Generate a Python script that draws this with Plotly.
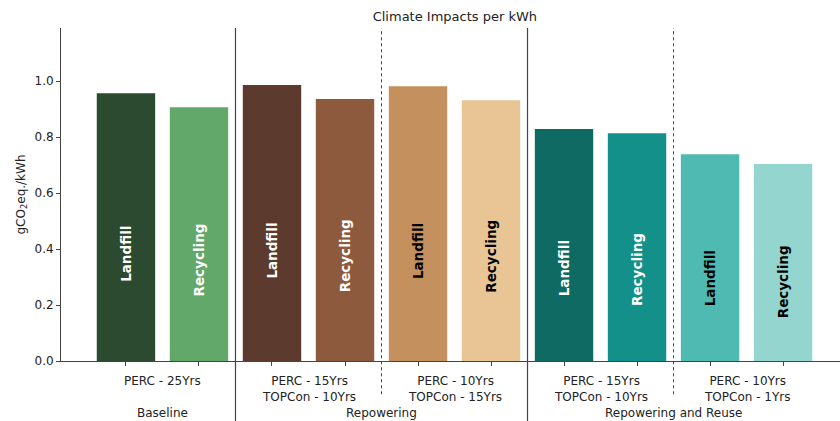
import plotly.graph_objects as go

# Climate impacts per kWh for each end-of-life scenario
scenarios = ["Baseline", "Repowering", "Repowering and Reuse"]
configs = ["PERC - 25Yrs",
           "PERC - 15Yrs<br>TOPCon - 10Yrs",
           "PERC - 10Yrs<br>TOPCon - 15Yrs",
           "PERC - 15Yrs<br>TOPCon - 10Yrs",
           "PERC - 10Yrs<br>TOPCon - 1Yrs"]
treatments = ["Landfill", "Recycling"] * 5
values = [0.957, 0.907, 0.986, 0.936, 0.982, 0.932, 0.829, 0.814, 0.739, 0.704]
colors = ["#2b4a2f", "#63a86b", "#5c3a2e", "#8e5a3e", "#c4915e",
          "#e9c596", "#0e6a62", "#139089", "#4ebab2", "#95d5cf"]
text_colors = ["white", "white", "white", "white", "black",
               "black", "white", "white", "black", "black"]

FONT = "DejaVu Sans"
xs = list(range(len(values)))

fig = go.Figure()
fig.add_trace(go.Bar(
    x=xs, y=values, width=0.8,
    marker=dict(color=colors, line=dict(width=0)),
    hoverinfo="y", showlegend=False,
))

# Rotated treatment labels inside the bars, centred at 40% of bar height
for x, v, t, c in zip(xs, values, treatments, text_colors):
    fig.add_annotation(x=x, y=0.4 * v, xref="x", yref="y", text=f"<b>{t}</b>",
                       textangle=-90, showarrow=False, yanchor="middle",
                       font=dict(family=FONT, size=13.5, color=c))

# Configuration labels under each pair of bars
for i, label in enumerate(configs):
    fig.add_annotation(x=2 * i + 0.5, y=-0.032, xref="x", yref="paper",
                       text=label, showarrow=False, yanchor="top",
                       font=dict(family=FONT, size=12, color="#222"))

# Scenario group labels
group_centers = [0.5, 3.5, 7.5]
for xc, name in zip(group_centers, scenarios):
    fig.add_annotation(x=xc, y=-0.13, xref="x", yref="paper",
                       text=name, showarrow=False, yanchor="top",
                       font=dict(family=FONT, size=12, color="#222"))

# Separators between scenarios (solid) and configurations (dashed)
for xv in [1.5, 5.5]:
    fig.add_shape(type="line", x0=xv, x1=xv, y0=-0.2, y1=1, xref="x", yref="paper",
                  line=dict(color="#444", width=1.2))
for xv in [3.5, 7.5]:
    fig.add_shape(type="line", x0=xv, x1=xv, y0=-0.10, y1=1, xref="x", yref="paper",
                  line=dict(color="#444", width=1, dash="dot"))

fig.update_layout(
    width=840, height=421,
    margin=dict(l=61, r=0, t=28, b=60),
    paper_bgcolor="white", plot_bgcolor="white",
    font=dict(family=FONT, size=12, color="#222"),
    title=dict(text="Climate Impacts per kWh", x=0.5415, xanchor="center",
               y=0.96, yanchor="middle", font=dict(family=FONT, size=13, color="#222")),
    xaxis=dict(range=[-0.89, 9.78], tickvals=xs, showticklabels=False,
               ticks="outside", ticklen=4, tickcolor="#444",
               showline=True, linecolor="#444", linewidth=1,
               showgrid=False, zeroline=False, fixedrange=True),
    yaxis=dict(range=[0, 1.19], tickvals=[0, 0.2, 0.4, 0.6, 0.8, 1.0],
               tickformat=".1f", ticks="outside", ticklen=4, tickcolor="#444",
               showline=True, linecolor="#444", linewidth=1,
               showgrid=False, zeroline=False,
               title=dict(text="gCO<sub>2</sub>eq./kWh", standoff=6,
                          font=dict(family=FONT, size=12, color="#222")),
               tickfont=dict(family=FONT, size=12, color="#222")),
)

fig.write_html("out.html")
